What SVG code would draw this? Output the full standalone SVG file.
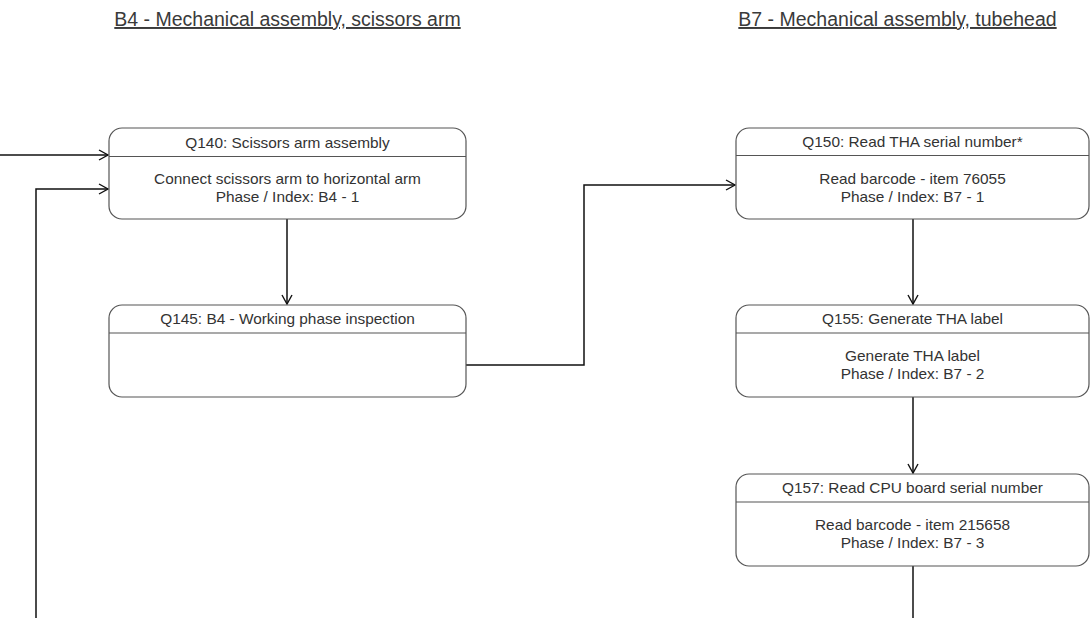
<svg xmlns="http://www.w3.org/2000/svg" width="1090" height="618" viewBox="0 0 1090 618">
<style>
.title{font-family:"Liberation Sans",Arial,sans-serif;font-size:19.5px;fill:#3a3a3a;text-anchor:middle;text-decoration:underline}
.box{fill:#fff;stroke:#555;stroke-width:1.2}
.div{stroke:#555;stroke-width:1.2}
.t{font-family:"Liberation Sans",Arial,sans-serif;font-size:14px;fill:#333;text-anchor:middle}
.conn{fill:none;stroke:#111;stroke-width:1.5}
</style>
<defs>
<marker id="arr" markerWidth="12" markerHeight="12" refX="10" refY="6" orient="auto" markerUnits="userSpaceOnUse">
<path d="M1,1 L10,6 L1,11" fill="none" stroke="#111" stroke-width="1.4"/>
</marker>
</defs>
<rect width="1090" height="618" fill="#fff"/>
<text class="title" x="287.5" y="26">B4 - Mechanical assembly, scissors arm</text>
<text class="title" x="897.5" y="26">B7 - Mechanical assembly, tubehead</text>

<g id="connectors">
<path class="conn" d="M0,155 L108,155" marker-end="url(#arr)"/>
<path class="conn" d="M36,618 L36,189 L108,189" marker-end="url(#arr)"/>
<path class="conn" d="M287,219 L287,304" marker-end="url(#arr)"/>
<path class="conn" d="M466,365 L584,365 L584,185 L735,185" marker-end="url(#arr)"/>
<path class="conn" d="M913,219 L913,304" marker-end="url(#arr)"/>
<path class="conn" d="M913,397 L913,473" marker-end="url(#arr)"/>
<path class="conn" d="M913,566 L913,618"/>
</g>

<g id="Q140">
<rect class="box" x="109" y="128" width="357" height="91" rx="13"/>
<line class="div" x1="109" y1="156.5" x2="466" y2="156.5"/>
<text class="t" transform="translate(287.5,147.5) scale(1.1,1)">Q140: Scissors arm assembly</text>
<text class="t" transform="translate(287.5,184) scale(1.1,1)">Connect scissors arm to horizontal arm</text>
<text class="t" transform="translate(287.5,202) scale(1.1,1)">Phase / Index: B4 - 1</text>
</g>

<g id="Q145">
<rect class="box" x="109" y="305" width="357" height="92" rx="13"/>
<line class="div" x1="109" y1="333" x2="466" y2="333"/>
<text class="t" transform="translate(287.5,324) scale(1.1,1)">Q145: B4 - Working phase inspection</text>
</g>

<g id="Q150">
<rect class="box" x="736" y="128" width="353" height="91" rx="13"/>
<line class="div" x1="736" y1="155.5" x2="1089" y2="155.5"/>
<text class="t" transform="translate(912.5,147) scale(1.1,1)">Q150: Read THA serial number*</text>
<text class="t" transform="translate(912.5,184) scale(1.1,1)">Read barcode - item 76055</text>
<text class="t" transform="translate(912.5,202) scale(1.1,1)">Phase / Index: B7 - 1</text>
</g>

<g id="Q155">
<rect class="box" x="736" y="305" width="353" height="92" rx="13"/>
<line class="div" x1="736" y1="333" x2="1089" y2="333"/>
<text class="t" transform="translate(912.5,324) scale(1.1,1)">Q155: Generate THA label</text>
<text class="t" transform="translate(912.5,361) scale(1.1,1)">Generate THA label</text>
<text class="t" transform="translate(912.5,379) scale(1.1,1)">Phase / Index: B7 - 2</text>
</g>

<g id="Q157">
<rect class="box" x="736" y="474" width="353" height="92" rx="13"/>
<line class="div" x1="736" y1="502" x2="1089" y2="502"/>
<text class="t" transform="translate(912.5,493) scale(1.1,1)">Q157: Read CPU board serial number</text>
<text class="t" transform="translate(912.5,530) scale(1.1,1)">Read barcode - item 215658</text>
<text class="t" transform="translate(912.5,548) scale(1.1,1)">Phase / Index: B7 - 3</text>
</g>
</svg>
